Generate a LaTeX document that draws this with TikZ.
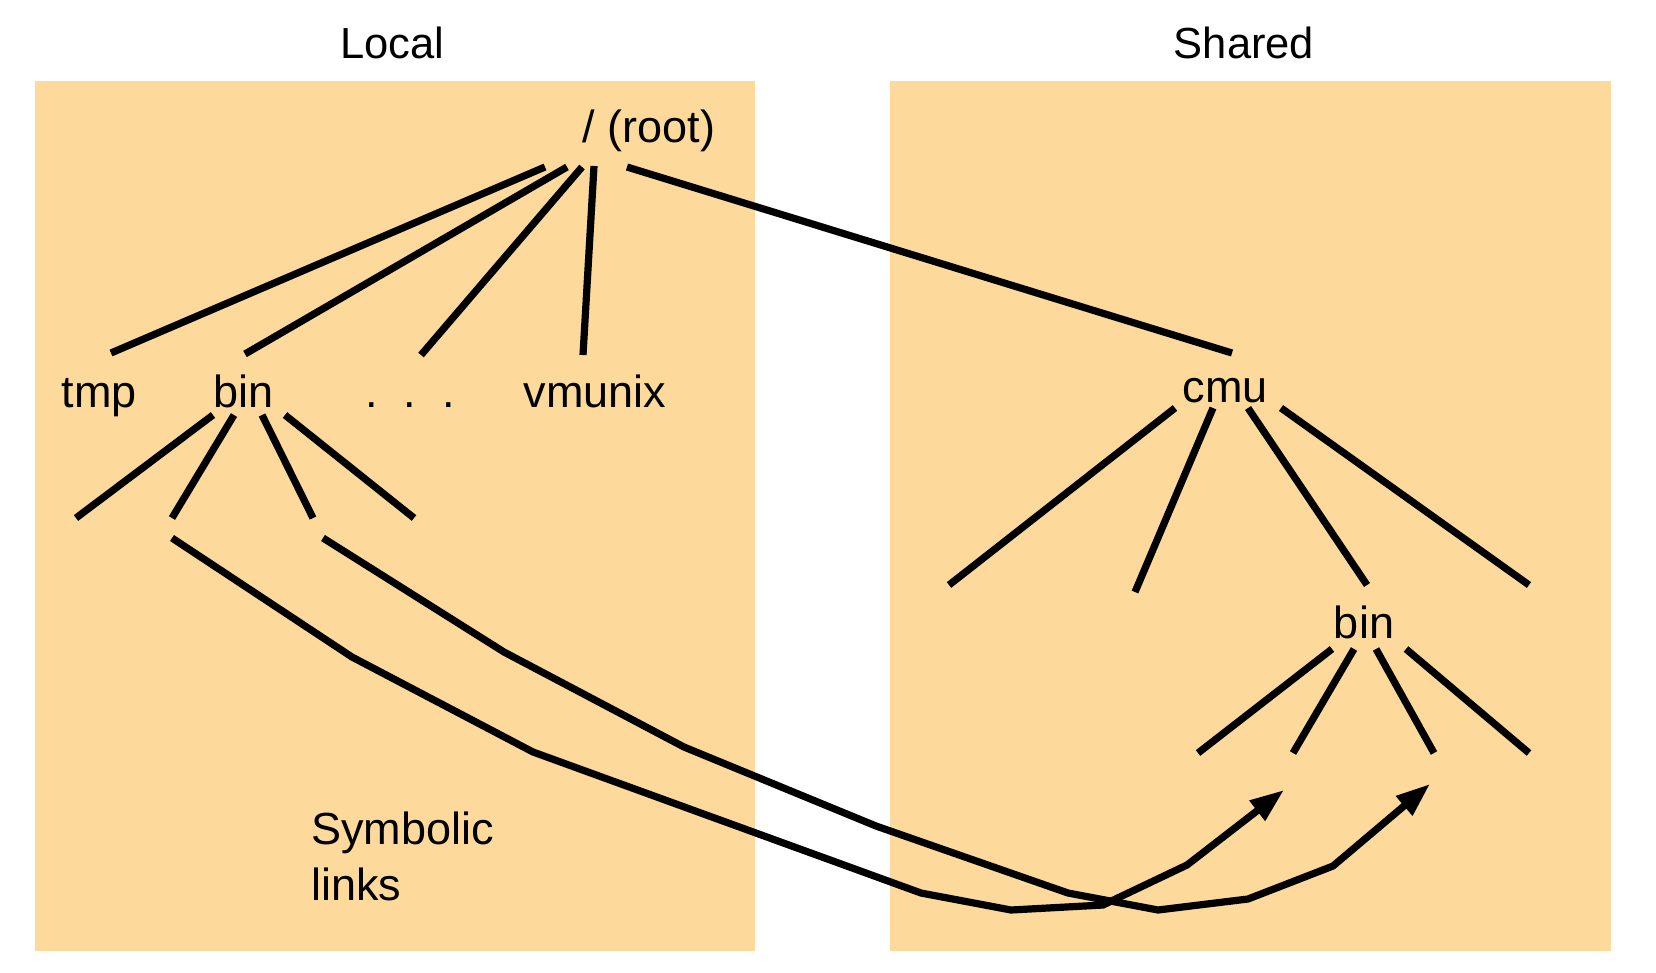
\documentclass[tikz,border=0pt]{standalone}
\usepackage{fontspec}
\setmainfont{Liberation Sans}
\usetikzlibrary{arrows.meta}
\definecolor{panelfill}{RGB}{253,217,155}
\tikzset{
  panel/.style={fill=panelfill, draw=none, inner sep=0pt, outer sep=0pt},
  ttl/.style={anchor=base, inner sep=0pt, font=\fontsize{43.5}{52}\selectfont},
  lbl/.style={anchor=base, inner sep=0pt, font=\fontsize{45}{56}\selectfont},
  edge/.style={draw=black, line width=7.2pt, line cap=butt},
  link/.style={draw=black, line width=7.2pt, line join=miter, -{Triangle[length=34pt,width=24pt]}},
}
\begin{document}
\begin{tikzpicture}[x=1pt,y=-1pt]
\useasboundingbox (0,0) rectangle (1656,972);
% panels
\node[panel, minimum width=720pt, minimum height=870pt] (localbox) at (395,516) {};
\node[panel, minimum width=721pt, minimum height=870pt] (sharedbox) at (1250.5,516) {};
% titles
\node[ttl] (localttl) at (392,58) {Local};
\node[ttl] (sharedttl) at (1244,58) {Shared};
% labels
\node[lbl] (root) at (649,142) {/ (root)};
\node[lbl] (tmp) at (99,407) {tmp};
\node[lbl] (bin) at (243.5,407) {bin};
\node[lbl] (dots) at (410,407) {.\hspace{26pt}.\hspace{26pt}.};
\node[lbl] (vmunix) at (595,407) {vmunix};
\node[lbl] (cmu) at (1225,402) {cmu};
\node[lbl] (sbin) at (1364,638) {bin};
\node[anchor=north west, inner sep=0pt, align=left, font=\fontsize{45}{56}\selectfont] (symlinks) at (311,812) {Symbolic\\links};
% connector end points
\coordinate (r1) at (545,167); \coordinate (t1) at (111,353);
\coordinate (r2) at (567,167); \coordinate (t2) at (245,354);
\coordinate (r3) at (582,167); \coordinate (t3) at (421,355);
\coordinate (r4) at (594,166); \coordinate (t4) at (583,355);
\coordinate (r5) at (627,167); \coordinate (t5) at (1232,353);
\coordinate (b1) at (213,415); \coordinate (bl1) at (76,518);
\coordinate (b2) at (234,415); \coordinate (bl2) at (172,518);
\coordinate (b3) at (262,415); \coordinate (bl3) at (313,518);
\coordinate (b4) at (285,415); \coordinate (bl4) at (414,518);
\coordinate (c1) at (1175,408); \coordinate (cl1) at (949,585);
\coordinate (c2) at (1213,408); \coordinate (cl2) at (1135,592);
\coordinate (c3) at (1248,408); \coordinate (cl3) at (1367,585);
\coordinate (c4) at (1281,408); \coordinate (cl4) at (1529,585);
\coordinate (s1) at (1332,649); \coordinate (sl1) at (1198,753);
\coordinate (s2) at (1354,649); \coordinate (sl2) at (1293,753);
\coordinate (s3) at (1376,649); \coordinate (sl3) at (1434,753);
\coordinate (s4) at (1406,649); \coordinate (sl4) at (1529,753);
\coordinate (lk1s) at (172,538); \coordinate (lk1e) at (1284,790);
\coordinate (lk2s) at (323,538); \coordinate (lk2e) at (1430,784);
% tree edges
\draw[edge] (r1) -- (t1);
\draw[edge] (r2) -- (t2);
\draw[edge] (r3) -- (t3);
\draw[edge] (r4) -- (t4);
\draw[edge] (r5) -- (t5);
\draw[edge] (b1) -- (bl1);
\draw[edge] (b2) -- (bl2);
\draw[edge] (b3) -- (bl3);
\draw[edge] (b4) -- (bl4);
\draw[edge] (c1) -- (cl1);
\draw[edge] (c2) -- (cl2);
\draw[edge] (c3) -- (cl3);
\draw[edge] (c4) -- (cl4);
\draw[edge] (s1) -- (sl1);
\draw[edge] (s2) -- (sl2);
\draw[edge] (s3) -- (sl3);
\draw[edge] (s4) -- (sl4);
% symbolic links
\draw[link] (lk1s) -- (352,657) -- (533,752) -- (921,893) -- (1011,910) -- (1103,905) -- (1187,865) -- (lk1e);
\draw[link] (lk2s) -- (504,652) -- (684,747) -- (876,826) -- (1068,893) -- (1158,910) -- (1248,899) -- (1333,866) -- (lk2e);
\end{tikzpicture}
\end{document}
